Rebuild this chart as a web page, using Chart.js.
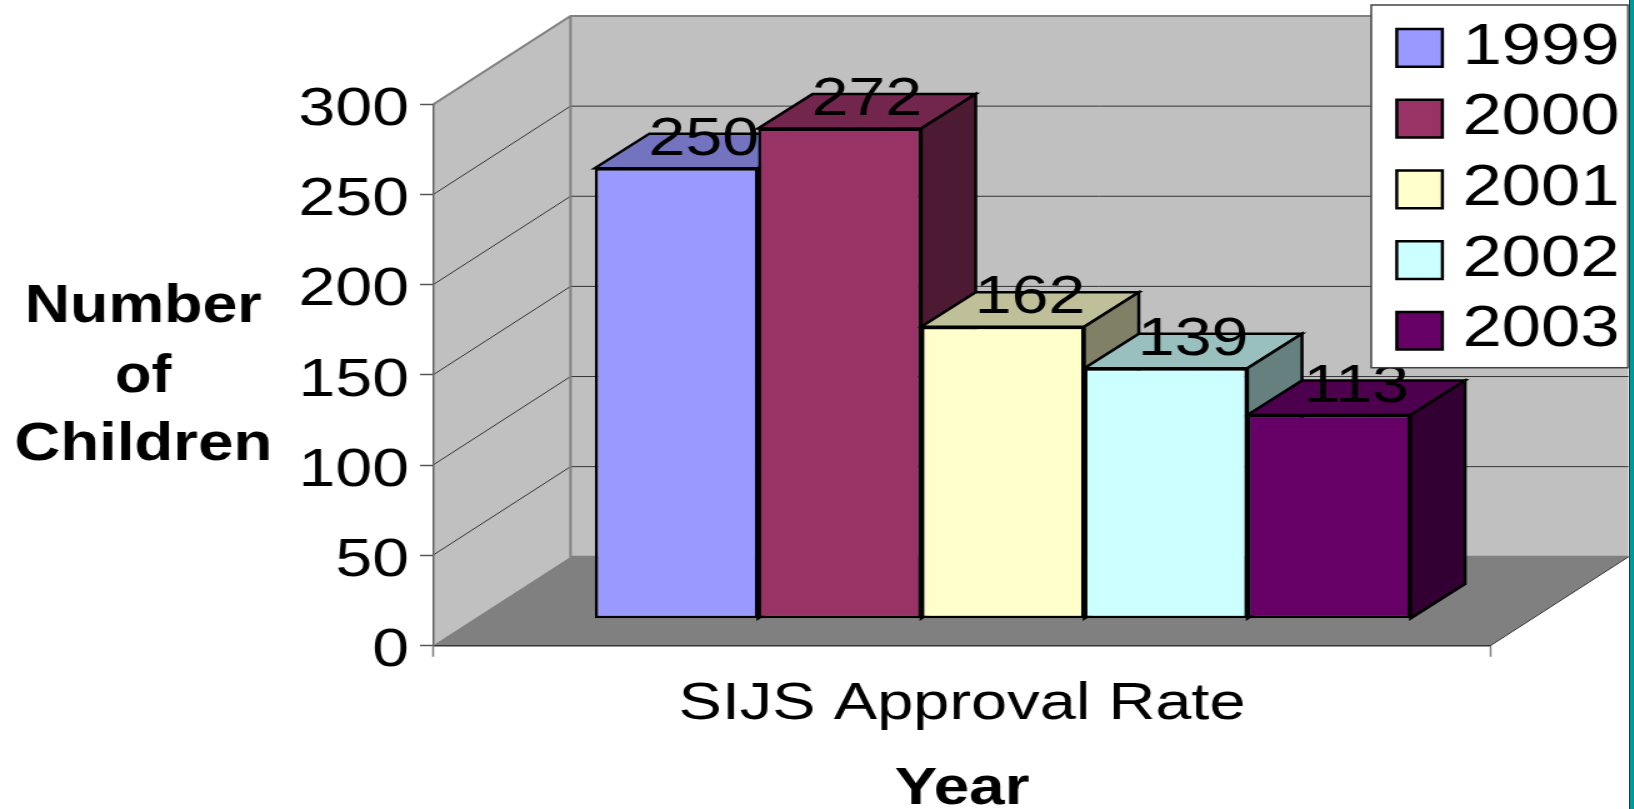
<!DOCTYPE html>
<html lang="en">
<head>
    <meta charset="UTF-8">
    <title>SIJS Approval Rate</title>
    <style>
        html, body {
            margin: 0;
            padding: 0;
            background: #fff;
            overflow: hidden;
            width: 1634px;
            height: 809px;
        }

        /* the picture is stretched sideways, text included */
        #wrap {
            width: 1308px;
            height: 809px;
            transform: scaleX(1.25);
            transform-origin: 0 0;
        }

        #edge {
            position: absolute;
            top: 0;
            right: 0;
            width: 4px;
            height: 809px;
            background: #009999;
            border-left: 1.5px solid #333;
        }
    </style>
</head>
<body>
<div id="wrap"><canvas id="chart" width="1308" height="809"></canvas></div>
<div id="edge"></div>

<script src="https://cdn.jsdelivr.net/npm/chart.js"></script>
<script>
    const categories = ['SIJS Approval Rate'];
    const years = ['1999', '2000', '2001', '2002', '2003'];
    const values = [250, 272, 162, 139, 113];
    const colors = ['#9999FF', '#993366', '#FFFFCC', '#CCFFFF', '#660066'];
    const yMin = 0;
    const yMax = 300;
    const yStep = 50;
    const yTitleLines = ['Number', 'of', 'Children'];
    const xTitle = 'Year';

    // depth of the fake 3D, canvas px (x is later stretched by 1.25)
    const WALL = {dx: 110, dy: -88.5};
    const BAR = {dx: 43.6, dy: -34.5};
    const PLANE = {dx: 32.6, dy: -26.5};

    Chart.defaults.font.family = '"Liberation Sans", Arial, sans-serif';
    Chart.defaults.color = '#000';

    function shade(hex, k) {
        const n = parseInt(hex.slice(1), 16);
        const r = Math.round((n >> 16 & 255) * k);
        const g = Math.round((n >> 8 & 255) * k);
        const b = Math.round((n & 255) * k);
        return 'rgb(' + r + ',' + g + ',' + b + ')';
    }

    function poly(ctx, pts, fill, stroke, lw) {
        ctx.beginPath();
        pts.forEach(function (p, i) {
            if (i === 0) ctx.moveTo(p[0], p[1]); else ctx.lineTo(p[0], p[1]);
        });
        ctx.closePath();
        if (fill) {
            ctx.fillStyle = fill;
            ctx.fill();
        }
        if (stroke) {
            ctx.strokeStyle = stroke;
            ctx.lineWidth = lw;
            ctx.stroke();
        }
    }

    const box3d = {
        id: 'box3d',
        afterLayout: function (chart) {
            // legend sits over the top right corner of the walls
            const lg = chart.legend;
            lg.left = 1103.2;
            lg.top = 5.5;
            lg.right = 1295.6;
            lg.bottom = 400;
        },
        beforeDraw: function (chart) {
            const ctx = chart.ctx;
            const a = chart.chartArea;
            const y = chart.scales.y;
            const bx = a.left + WALL.dx;
            const rx = a.right + WALL.dx;
            const dy = WALL.dy;
            ctx.save();
            // back wall, side wall, floor
            poly(ctx, [[bx, a.top + dy], [rx, a.top + dy], [rx, a.bottom + dy], [bx, a.bottom + dy]], '#C0C0C0');
            poly(ctx, [[a.left, a.top], [bx, a.top + dy], [bx, a.bottom + dy], [a.left, a.bottom]], '#C0C0C0');
            poly(ctx, [[a.left, a.bottom], [bx, a.bottom + dy], [rx, a.bottom + dy], [a.right, a.bottom]], '#808080');

            ctx.strokeStyle = '#333';
            ctx.lineWidth = 1;
            y.ticks.forEach(function (t) {
                if (t.value === yMin || t.value === yMax) return;
                const py = y.getPixelForValue(t.value);
                ctx.beginPath();
                ctx.moveTo(a.left, py);
                ctx.lineTo(bx, py + dy);
                ctx.lineTo(rx, py + dy);
                ctx.stroke();
            });

            // wall edges
            ctx.strokeStyle = '#808080';
            ctx.lineWidth = 2;
            ctx.beginPath();
            ctx.moveTo(a.left, a.top);
            ctx.lineTo(bx, a.top + dy);
            ctx.lineTo(rx, a.top + dy);
            ctx.moveTo(bx, a.top + dy);
            ctx.lineTo(bx, a.bottom + dy);
            ctx.lineTo(rx, a.bottom + dy);
            ctx.stroke();

            ctx.strokeStyle = '#333';
            ctx.lineWidth = 1;
            ctx.beginPath();
            ctx.moveTo(a.right, a.bottom);
            ctx.lineTo(rx, a.bottom + dy);
            ctx.stroke();
            ctx.restore();
        },
        beforeDatasetsDraw: function (chart) {
            const ctx = chart.ctx;
            ctx.save();
            ctx.translate(PLANE.dx, PLANE.dy);
            // tops and sides left to right, the library paints the fronts after
            chart.data.datasets.forEach(function (ds, i) {
                const b = chart.getDatasetMeta(i).data[0];
                const l = b.x - b.width / 2;
                const r = b.x + b.width / 2;
                poly(ctx, [[l, b.y], [r, b.y], [r + BAR.dx, b.y + BAR.dy], [l + BAR.dx, b.y + BAR.dy]],
                    shade(colors[i], 0.75), '#000', 2.5);
                poly(ctx, [[r, b.y], [r + BAR.dx, b.y + BAR.dy], [r + BAR.dx, b.base + BAR.dy], [r, b.base]],
                    shade(colors[i], 0.5), '#000', 2.5);
            });
        },
        afterDatasetsDraw: function (chart) {
            const ctx = chart.ctx;
            // value labels, still on the bar plane
            ctx.fillStyle = '#000';
            ctx.font = '53px ' + Chart.defaults.font.family;
            ctx.textAlign = 'center';
            ctx.textBaseline = 'alphabetic';
            chart.data.datasets.forEach(function (ds, i) {
                const b = chart.getDatasetMeta(i).data[0];
                ctx.fillText(String(ds.data[0]), b.x + BAR.dx / 2, b.y - 13.3);
            });
            ctx.restore();
        },
        afterDraw: function (chart) {
            const ctx = chart.ctx;
            ctx.save();
            // legend box goes over everything, even the 113 label
            ctx.fillStyle = '#fff';
            ctx.strokeStyle = '#444';
            ctx.lineWidth = 1.5;
            ctx.fillRect(1097, 5, 205.4, 362.7);
            ctx.strokeRect(1097, 5, 205.4, 362.7);
            chart.legend.draw();

            // y title is horizontal, three lines
            const widths = [189.6, 45, 206.4];
            const baselines = [321.7, 391.7, 460];
            ctx.fillStyle = '#000';
            ctx.font = 'bold 54px ' + Chart.defaults.font.family;
            ctx.textAlign = 'center';
            ctx.textBaseline = 'alphabetic';
            yTitleLines.forEach(function (line, i) {
                ctx.save();
                ctx.translate(114.6, baselines[i]);
                ctx.scale(widths[i] / ctx.measureText(line).width, 1);
                ctx.fillText(line, 0, 0);
                ctx.restore();
            });
            ctx.restore();
        }
    };

    const chart = new Chart(document.getElementById('chart'), {
        type: 'bar',
        data: {
            labels: categories,
            datasets: years.map(function (year, i) {
                return {
                    label: year,
                    data: [values[i]],
                    backgroundColor: colors[i],
                    borderColor: '#000',
                    borderWidth: 2.5,
                    borderSkipped: false,
                    barPercentage: 1,
                    categoryPercentage: 0.771
                };
            })
        },
        options: {
            responsive: false,
            animation: false,
            events: [],
            layout: {
                padding: {left: 0, top: 104.5, right: 115.2, bottom: 0}
            },
            plugins: {
                tooltip: {enabled: false},
                legend: {
                    position: 'chartArea',
                    align: 'start',
                    labels: {
                        boxWidth: 36.5,
                        boxHeight: 37.7,
                        padding: 14.2,
                        textAlign: 'right',
                        color: '#000',
                        font: {size: 56.5, lineHeight: 1}
                    }
                }
            },
            scales: {
                x: {
                    afterFit: function (scale) {
                        scale.height = 163.7;
                    },
                    grid: {
                        drawOnChartArea: false,
                        tickLength: 11.5,
                        tickColor: '#808080',
                        tickWidth: 1.5
                    },
                    border: {color: '#333', width: 1.5},
                    ticks: {
                        color: '#000',
                        padding: 22,
                        maxRotation: 0,
                        font: {size: 52, lineHeight: 1}
                    },
                    title: {
                        display: true,
                        text: xTitle,
                        color: '#000',
                        padding: {top: 0, bottom: -6},
                        font: {size: 51, weight: 'bold', lineHeight: 1}
                    }
                },
                y: {
                    min: yMin,
                    max: yMax,
                    afterFit: function (scale) {
                        scale.width = 346.4;
                    },
                    grid: {
                        drawOnChartArea: false,
                        tickLength: 10.4,
                        tickColor: '#555',
                        tickWidth: 1.5
                    },
                    border: {color: '#666', width: 1.5},
                    ticks: {
                        stepSize: yStep,
                        color: '#000',
                        padding: 8.8,
                        labelOffset: 6,
                        font: {size: 53, lineHeight: 1}
                    }
                }
            }
        },
        plugins: [box3d]
    });
</script>
</body>
</html>
